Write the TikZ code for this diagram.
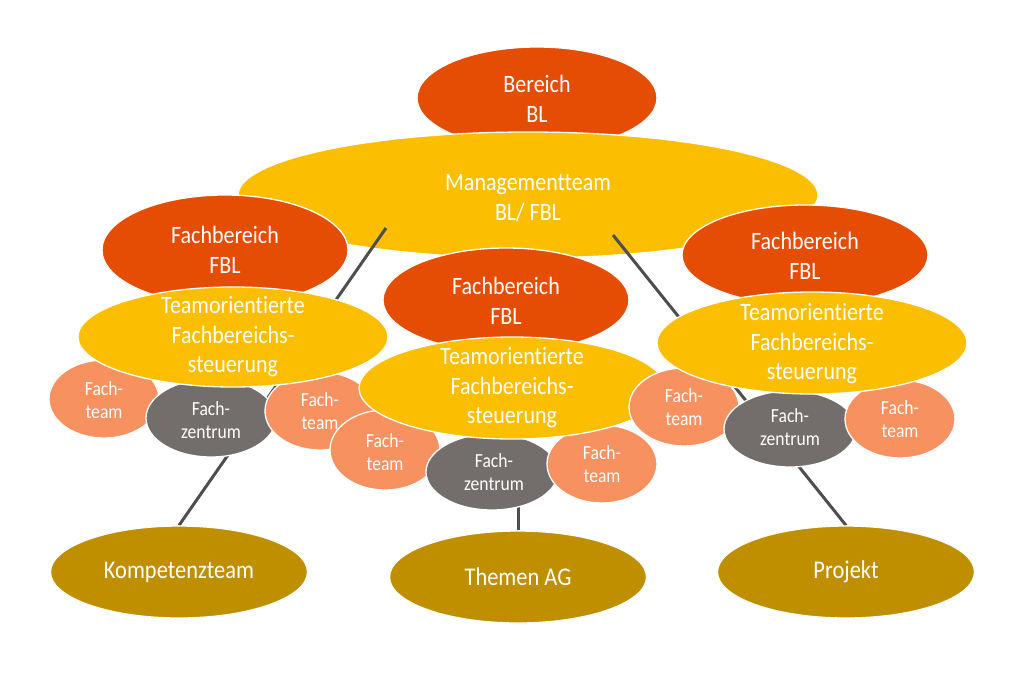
\documentclass[tikz,border=0pt]{standalone}
\usepackage{fontspec}
\setmainfont{Carlito}[FakeStretch=0.88, Ligatures=NoCommon]
\usetikzlibrary{shapes.geometric}
\definecolor{cRed}{RGB}{229,76,4}
\definecolor{cYel}{RGB}{252,190,0}
\definecolor{cSal}{RGB}{247,145,96}
\definecolor{cGray}{RGB}{115,110,108}
\definecolor{cOli}{RGB}{191,143,0}
\definecolor{cLine}{RGB}{78,78,78}
\pgfdeclarelayer{bg}
\pgfdeclarelayer{lines}
\pgfsetlayers{bg,lines,main}
\tikzset{
  blob/.style={ellipse, draw=white, line width=1.3pt, inner sep=0pt, text=white},
  redblob/.style={blob, fill=cRed},
  yelblob/.style={blob, fill=cYel},
  salblob/.style={blob, fill=cSal, minimum width=110pt, minimum height=78pt},
  grayblob/.style={blob, fill=cGray, minimum width=132pt, minimum height=76pt},
  oliblob/.style={blob, fill=cOli, minimum width=257pt, minimum height=92pt, font=\fontsize{25.5}{30}\selectfont},
  bigtxt/.style={text=white, align=center, inner sep=0pt, font=\fontsize{25}{29.5}\selectfont},
  smalltxt/.style={text=white, align=center, inner sep=0pt, font=\fontsize{20}{23}\selectfont},
  conn/.style={draw=cLine, line width=3pt}
}
\begin{document}
\begin{tikzpicture}[x=1pt,y=-1pt]
\useasboundingbox (0,0) rectangle (1024,673);
\begin{pgfonlayer}{bg}
\node[redblob, minimum width=240pt, minimum height=102pt] (bb) at (537,98) {};
\node[yelblob, minimum width=580pt, minimum height=126pt] (mg) at (528,195) {};
\node[bigtxt] (bbt) at (537,99) {Bereich\\BL};
\node[bigtxt] (mgt) at (528,198) {Managementteam\\BL/ FBL};
\end{pgfonlayer}
% Fachbereiche
\node[redblob, minimum width=246pt, minimum height=110pt] (fbL) at (225,250) {};
\node[bigtxt] (fbLt) at (225,250) {Fachbereich\\FBL};
\node[redblob, minimum width=246pt, minimum height=100pt] (fbR) at (805,255) {};
\node[bigtxt] (fbRt) at (805,256) {Fachbereich\\FBL};
\node[redblob, minimum width=246pt, minimum height=104pt] (fbM) at (506,300) {};
\node[bigtxt] (fbMt) at (506,301) {Fachbereich\\FBL};
% left group
\node[salblob] (ftL1) at (104,399) {};
\node[smalltxt] (ftL1t) at (104,400) {Fach-\\team};
\node[grayblob, minimum width=130pt, minimum height=78pt] (fzL) at (211,418) {};
\node[smalltxt] (fzLt) at (211,420) {Fach-\\zentrum};
\node[salblob] (ftL2) at (320,411) {};
\node[smalltxt] (ftL2t) at (320,411) {Fach-\\team};
\node[yelblob, minimum width=310pt, minimum height=100pt] (tL) at (233,337) {};
\node[bigtxt] (tLt) at (233,337) {Teamorientierte\\Fachbereichs-\\steuerung};
% middle group
\node[salblob, minimum height=80pt] (ftM1) at (385,450) {};
\node[smalltxt] (ftM1t) at (385,452) {Fach-\\team};
\node[grayblob] (fzM) at (492,472) {};
\node[smalltxt] (fzMt) at (494,472) {Fach-\\zentrum};
\node[salblob] (ftM2) at (602,464) {};
\node[smalltxt] (ftM2t) at (602,464) {Fach-\\team};
\node[yelblob, minimum width=306pt, minimum height=102pt] (tM) at (512,388) {};
\node[bigtxt] (tMt) at (512,388) {Teamorientierte\\Fachbereichs-\\steuerung};
% right group
\node[salblob] (ftR1) at (684,407) {};
\node[smalltxt] (ftR1t) at (684,407) {Fach-\\team};
\node[grayblob] (fzR) at (790,429) {};
\node[smalltxt] (fzRt) at (790,427) {Fach-\\zentrum};
\node[salblob] (ftR2) at (900,419) {};
\node[smalltxt] (ftR2t) at (900,419) {Fach-\\team};
\node[yelblob, minimum width=310pt, minimum height=102pt] (tR) at (812,343) {};
\node[bigtxt] (tRt) at (812,344) {Teamorientierte\\Fachbereichs-\\steuerung};
% bottom
\node[oliblob] (kt) at (179,572) {Kompetenzteam};
\node[oliblob] (ag) at (518,577) {Themen AG};
\node[oliblob] (pj) at (846,572) {Projekt};
% connectors
\coordinate (mL) at (386,228);
\coordinate (mR) at (613,235);
\begin{pgfonlayer}{lines}
\draw[conn] (mL) -- (kt.north);
\draw[conn] (mR) -- (pj.north);
\draw[conn] (ag.north) -- (ag.north |- fzM.center);
\end{pgfonlayer}
\end{tikzpicture}
\end{document}
